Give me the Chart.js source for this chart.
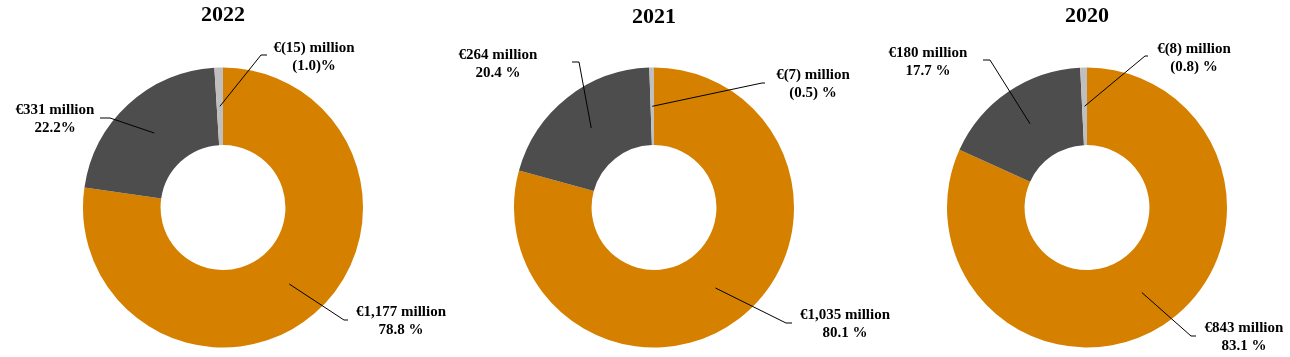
<!DOCTYPE html>
<html>
<head>
<meta charset="utf-8">
<script src="https://cdn.jsdelivr.net/npm/chart.js@4.4.1/dist/chart.umd.min.js"></script>
<style>
  html, body { margin: 0; padding: 0; background: #ffffff; }
  #wrap { position: relative; width: 1290px; height: 357px; overflow: hidden; }
  #wrap canvas { position: absolute; left: 0; top: 0; }
</style>
</head>
<body>
<div id="wrap">
  <canvas id="c0" width="1290" height="357"></canvas>
  <canvas id="c1" width="1290" height="357"></canvas>
  <canvas id="c2" width="1290" height="357"></canvas>
</div>
<script>
// ---------- DATA ----------
const years = ['2022', '2021', '2020'];
const categories = ['Main segment', 'Second segment', 'Other / eliminations'];
const values2022 = [1177, 331, -15];
const values2021 = [1035, 264, -7];
const values2020 = [843, 180, -8];
const amountLabels2022 = ['€1,177 million', '€331 million', '€(15) million'];
const amountLabels2021 = ['€1,035 million', '€264 million', '€(7) million'];
const amountLabels2020 = ['€843 million', '€180 million', '€(8) million'];
const pctLabels2022 = ['78.8 %', '22.2%', '(1.0)%'];
const pctLabels2021 = ['80.1 %', '20.4 %', '(0.5) %'];
const pctLabels2020 = ['83.1 %', '17.7 %', '(0.8) %'];

// ---------- STYLE / LAYOUT ----------
const sliceColors = ['#D68000', '#4D4D4D', '#BFBFBF'];
const W = 1290, H = 357;
const RADIUS = 140, CY = 207.5;
const centersX = [223, 654, 1087];
const titleY = [15, 17, 16];
// per chart, per slice: text centre x, first-line y, elbow point, horizontal end point
const labelLayout = [
  [
    { tx: 401, ty: 312, ex: 344, ey: 320, hx: 348, hy: 320 },
    { tx: 55,  ty: 110, ex: 110, ey: 118, hx: 100, hy: 118 },
    { tx: 314, ty: 48,  ex: 261, ey: 55,  hx: 267, hy: 55 }
  ],
  [
    { tx: 845, ty: 315, ex: 786, ey: 323, hx: 792, hy: 323 },
    { tx: 498, ty: 55,  ex: 579, ey: 62,  hx: 572, hy: 62 },
    { tx: 813, ty: 75,  ex: 762, ey: 83,  hx: 765, hy: 83 }
  ],
  [
    { tx: 1244, ty: 328, ex: 1191, ey: 336, hx: 1196, hy: 336 },
    { tx: 928,  ty: 53,  ex: 990,  ey: 60,  hx: 983,  hy: 60 },
    { tx: 1194, ty: 49,  ex: 1145, ey: 56,  hx: 1148, hy: 56 }
  ]
];

const allValues = [values2022, values2021, values2020];
const allAmounts = [amountLabels2022, amountLabels2021, amountLabels2020];
const allPcts = [pctLabels2022, pctLabels2021, pctLabels2020];

const labelPlugin = {
  id: 'leaderLabels',
  afterDraw(chart) {
    const idx = chart.options.plugins.leaderLabels.index;
    const ctx = chart.ctx;
    const meta = chart.getDatasetMeta(0);
    ctx.save();
    // title
    ctx.fillStyle = '#000000';
    ctx.font = 'bold 22px "Liberation Serif", "Times New Roman", serif';
    ctx.textAlign = 'center';
    ctx.textBaseline = 'middle';
    ctx.fillText(years[idx], centersX[idx], titleY[idx]);
    // labels + leader lines
    meta.data.forEach((arc, i) => {
      const L = labelLayout[idx][i];
      const p = arc.tooltipPosition();
      ctx.strokeStyle = '#000000';
      ctx.lineWidth = 1;
      ctx.beginPath();
      ctx.moveTo(p.x, p.y);
      ctx.lineTo(L.ex, L.ey);
      ctx.lineTo(L.hx, L.hy);
      ctx.stroke();
      ctx.fillStyle = '#000000';
      ctx.font = 'bold 15px "Liberation Serif", "Times New Roman", serif';
      ctx.textAlign = 'center';
      ctx.textBaseline = 'middle';
      ctx.fillText(allAmounts[idx][i], L.tx, L.ty);
      ctx.fillText(allPcts[idx][i], L.tx, L.ty + 18);
    });
    ctx.restore();
  }
};

years.forEach((y, idx) => {
  const cx = centersX[idx];
  new Chart(document.getElementById('c' + idx), {
    type: 'doughnut',
    data: {
      labels: categories,
      datasets: [{
        data: allValues[idx],
        backgroundColor: sliceColors,
        borderWidth: 0,
        hoverBorderWidth: 0,
        hoverOffset: 0,
        offset: 0
      }]
    },
    options: {
      responsive: false,
      devicePixelRatio: 1,
      animation: false,
      events: [],
      cutout: '44.6%',
      rotation: 0,
      layout: {
        padding: {
          left: cx - RADIUS,
          right: W - cx - RADIUS,
          top: CY - RADIUS,
          bottom: H - CY - RADIUS
        }
      },
      plugins: {
        legend: { display: false },
        tooltip: { enabled: false },
        title: { display: false },
        leaderLabels: { index: idx }
      }
    },
    plugins: [labelPlugin]
  });
});
</script>
</body>
</html>
